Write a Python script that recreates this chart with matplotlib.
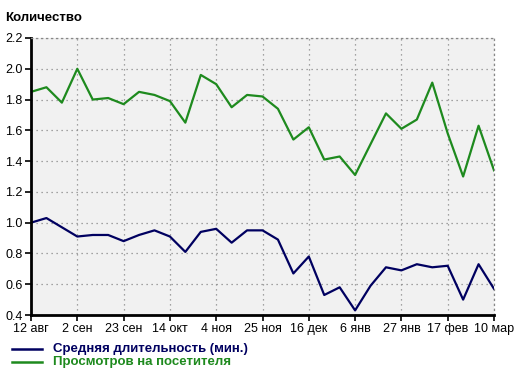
import matplotlib.pyplot as plt
import numpy as np

# weekly data, 12 авг .. 10 мар
weeks = np.arange(31)
tick_labels = ["12 авг", "2 сен", "23 сен", "14 окт", "4 ноя", "25 ноя",
               "16 дек", "6 янв", "27 янв", "17 фев", "10 мар"]
avg_duration = [1.00, 1.03, 0.97, 0.91, 0.92, 0.92, 0.88, 0.92, 0.95, 0.91,
                0.81, 0.94, 0.96, 0.87, 0.95, 0.95, 0.89, 0.67, 0.78, 0.53,
                0.58, 0.43, 0.59, 0.71, 0.69, 0.73, 0.71, 0.72, 0.50, 0.73, 0.57]
views_per_visitor = [1.85, 1.88, 1.78, 2.00, 1.80, 1.81, 1.77, 1.85, 1.83, 1.79,
                     1.65, 1.96, 1.90, 1.75, 1.83, 1.82, 1.74, 1.54, 1.62, 1.41,
                     1.43, 1.31, 1.51, 1.71, 1.61, 1.67, 1.91, 1.58, 1.30, 1.63, 1.34]

plt.rcParams['font.family'] = ['Liberation Sans', 'DejaVu Sans']

fig = plt.figure(figsize=(5.21, 3.77), dpi=100)
ax = fig.add_axes([31/521, 1 - 315/377, 463/521, 277/377])
ax.set_facecolor("#f1f1f1")

blue = "#000060"
green = "#1e8a1e"
ax.plot(weeks, avg_duration, color=blue, lw=1.6)
ax.plot(weeks, views_per_visitor, color=green, lw=1.6)

ax.set_xlim(0, 30)
ax.set_ylim(0.4, 2.2)
ax.set_xticks(weeks[::3])
ax.set_xticklabels(tick_labels)
ax.set_yticks(np.arange(0.4, 2.21, 0.2))
ax.set_yticklabels([f"{v:.1f}" for v in np.arange(0.4, 2.21, 0.2)])
ax.tick_params(labelsize=9, length=4, width=1.2, pad=2, colors="black")

ax.grid(True, color="#888888", linestyle=(0, (1, 3)), lw=0.9)
for s in ["top", "right"]:
    ax.spines[s].set_color("#888888")
    ax.spines[s].set_linestyle((0, (1, 3)))
    ax.spines[s].set_linewidth(0.9)
for s in ["left", "bottom"]:
    ax.spines[s].set_linewidth(2)

fig.text(5/521, 1 - 18/377, "Количество", fontsize=9.5, fontweight="bold",
         va="center", ha="left")

# legend below the plot
fig.add_artist(plt.Line2D([12/521, 42/521], [1 - 349/377] * 2, color=blue, lw=1.8))
fig.add_artist(plt.Line2D([12/521, 42/521], [1 - 362/377] * 2, color=green, lw=1.8))
fig.text(53/521, 1 - 349/377, "Средняя длительность (мин.)", color=blue,
         fontsize=9.5, fontweight="bold", va="center", ha="left")
fig.text(53/521, 1 - 362/377, "Просмотров на посетителя", color=green,
         fontsize=9.5, fontweight="bold", va="center", ha="left")

plt.savefig("out.png", dpi=100)
